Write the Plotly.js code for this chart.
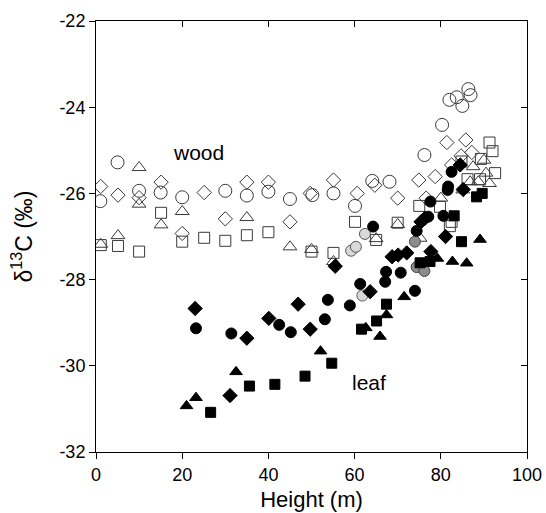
<!DOCTYPE html>
<html><head><meta charset="utf-8">
<script src="https://cdn.plot.ly/plotly-3.0.1.min.js"></script>
<style>html,body{margin:0;padding:0;background:#fff}</style>
</head><body><div id="chart" style="width:546px;height:513px"></div>
<script>
// Wood (open markers)
const woodCircleX = [1, 5, 10, 15, 20, 30, 35, 40, 45, 50.2, 55.1, 60.1, 64.1, 68.1, 76.2, 80.3, 82.0, 83.7, 86.4, 86.9, 85.0];
const woodCircleY = [-26.18, -25.28, -25.94, -25.98, -26.09, -25.94, -26.05, -25.96, -26.13, -26.04, -26.0, -26.29, -25.71, -25.73, -25.11, -24.41, -23.83, -23.77, -23.58, -23.72, -23.97];
const woodDiamondX = [1.1, 5.1, 10, 15.1, 20, 25.1, 30, 35, 40, 45, 49.7, 55.1, 60.6, 64.7, 70, 74.9, 76.6, 78.7, 81.4, 82.5, 84.7, 85.8, 87.2];
const woodDiamondY = [-25.84, -26.04, -26.10, -25.74, -26.93, -25.98, -26.59, -25.74, -25.74, -26.66, -26.0, -25.69, -26.0, -25.81, -26.11, -25.69, -26.11, -25.61, -24.82, -25.34, -25.13, -24.76, -25.05];
const woodTriangleX = [1.1, 5.1, 10, 10, 15.1, 20, 35, 45, 50, 55.1, 65, 70, 75.2, 80, 85.1, 86.8, 87.5, 88.7, 90, 90.5, 91.3];
const woodTriangleY = [-27.18, -26.98, -25.40, -26.25, -26.73, -26.42, -26.56, -27.24, -27.30, -27.58, -27.05, -26.72, -27.04, -26.11, -25.92, -25.73, -25.38, -25.73, -25.23, -25.53, -25.77];
const woodSquareX = [1.1, 5.1, 10, 15.1, 20, 25.1, 30, 35, 40, 50, 55.1, 60.1, 65, 70, 75, 79.8, 82.1, 82.5, 84.8, 86.2, 89.1, 89.3, 91.3, 92, 92.6];
const woodSquareY = [-27.20, -27.22, -27.35, -26.45, -27.12, -27.03, -27.10, -26.97, -26.90, -27.35, -27.38, -26.66, -27.08, -26.68, -26.29, -26.31, -26.76, -26.66, -25.26, -25.67, -25.67, -25.20, -24.82, -25.02, -25.53];
// Leaf (filled markers)
const leafCircleX = [23.2, 31.4, 42.5, 45.2, 53.1, 53.8, 58.9, 61.3, 64.3, 67.1, 67.3, 70.7, 74.0, 74.4, 77.1, 77.6, 80.6, 81.6, 81.7, 82.5];
const leafCircleY = [-29.13, -29.25, -29.05, -29.22, -28.92, -28.47, -28.60, -28.10, -26.77, -28.05, -27.82, -27.84, -28.26, -26.87, -26.54, -26.19, -26.52, -25.92, -25.84, -25.50];
const leafDiamondX = [23, 31.1, 35, 40.1, 46.9, 49.7, 55.5, 63.6, 68.7, 70.1, 72.1, 75.4, 76.3, 77.7, 81.1, 84.5, 85.2];
const leafDiamondY = [-28.67, -30.69, -29.36, -28.90, -28.57, -29.15, -27.69, -28.28, -27.47, -27.43, -27.38, -26.66, -26.58, -27.35, -27.0, -25.34, -25.91];
const leafTriangleX = [21, 23.2, 32.5, 52.1, 62.6, 65.9, 67.4, 71.5, 79.2, 82.7, 86, 89.1];
const leafTriangleY = [-30.93, -30.74, -30.14, -29.66, -29.12, -29.32, -28.82, -28.40, -27.51, -27.58, -27.62, -27.07];
const leafSquareX = [26.6, 35.6, 41.5, 48.5, 54.7, 61.6, 65.1, 67.4, 75.2, 77.5, 83.1, 84.8, 88.3, 89.6];
const leafSquareY = [-31.08, -30.47, -30.43, -30.24, -29.94, -29.15, -28.96, -28.57, -27.61, -27.58, -26.52, -27.12, -26.08, -26.0];
// Grey circles
const lightGreyX = [59.2, 60.3, 61.8, 62.4];
const lightGreyY = [-27.33, -27.24, -28.37, -26.94];
const midGreyX = [74.0, 74.4, 76.2];
const midGreyY = [-27.12, -27.71, -27.80];
// Axes
const xTicks = [0, 20, 40, 60, 80, 100];
const xTickLabels = ['0', '20', '40', '60', '80', '100'];
const yTicks = [-32, -30, -28, -26, -24, -22];
const yTickLabels = ['-32', '-30', '-28', '-26', '-24', '-22'];

const FONT = 'Liberation Sans, Arial, sans-serif';
function tr(x, y, symbol, size, fill, line) {
  return {x: x, y: y, type: 'scatter', mode: 'markers', showlegend: false, hoverinfo: 'skip',
    marker: {symbol: symbol, size: size, color: fill, line: {color: line, width: 1}}};
}
const openC = '#3a3a3a';
const data = [
  tr(woodCircleX, woodCircleY, 'circle-open', 13, openC, openC),
  tr(woodDiamondX, woodDiamondY, 'diamond-open', 11, openC, openC),
  tr(woodTriangleX, woodTriangleY, 'triangle-up-open', 12, openC, openC),
  tr(woodSquareX, woodSquareY, 'square-open', 11, openC, openC),
  tr(lightGreyX, lightGreyY, 'circle', 11, '#d9d9d9', '#555'),
  tr(midGreyX, midGreyY, 'circle', 11, '#8c8c8c', '#444'),
  tr(leafCircleX, leafCircleY, 'circle', 11, '#000', '#000'),
  tr(leafDiamondX, leafDiamondY, 'diamond', 11, '#000', '#000'),
  tr(leafTriangleX, leafTriangleY, 'triangle-up', 11, '#000', '#000'),
  tr(leafSquareX, leafSquareY, 'square', 10, '#000', '#000'),
  {x: [], y: [], xaxis: 'x2', yaxis: 'y2', type: 'scatter', mode: 'markers', showlegend: false}
];
const layout = {
  width: 546, height: 513,
  margin: {l: 96, r: 19, t: 21, b: 61},
  paper_bgcolor: '#fff', plot_bgcolor: '#fff',
  font: {family: FONT, color: '#000', size: 18},
  showlegend: false,
  xaxis: {range: [0, 100], tickvals: xTicks, ticktext: xTickLabels, ticks: 'outside', ticklen: 6,
    tickcolor: '#000', showline: true, mirror: true, linecolor: '#000', linewidth: 1,
    showgrid: false, zeroline: false, tickfont: {size: 18},
    title: {text: 'Height (m)', font: {size: 22}, standoff: 8}},
  yaxis: {range: [-32, -22], tickvals: yTicks, ticktext: yTickLabels, ticks: 'outside', ticklen: 6,
    tickcolor: '#000', showline: true, mirror: true, linecolor: '#000', linewidth: 1,
    showgrid: false, zeroline: false, tickfont: {size: 18},
    title: {text: 'δ<sup>13</sup>C (‰)', font: {size: 23}, standoff: 20}},
  xaxis2: {overlaying: 'x', side: 'top', range: [0, 100], tickvals: xTicks, ticks: 'inside', ticklen: 6,
    tickcolor: '#000', showticklabels: false, showline: false, showgrid: false, zeroline: false},
  yaxis2: {overlaying: 'y', side: 'right', range: [-32, -22], tickvals: yTicks, ticks: 'inside', ticklen: 6,
    tickcolor: '#000', showticklabels: false, showline: false, showgrid: false, zeroline: false},
  annotations: [
    {x: 23.7, y: -25.06, xref: 'x', yref: 'y', text: 'wood', showarrow: false, font: {size: 21, family: FONT}},
    {x: 63.3, y: -30.38, xref: 'x', yref: 'y', text: 'leaf', showarrow: false, font: {size: 21, family: FONT}}
  ]
};
Plotly.newPlot('chart', data, layout, {displayModeBar: false, staticPlot: true});
</script>
</body></html>
